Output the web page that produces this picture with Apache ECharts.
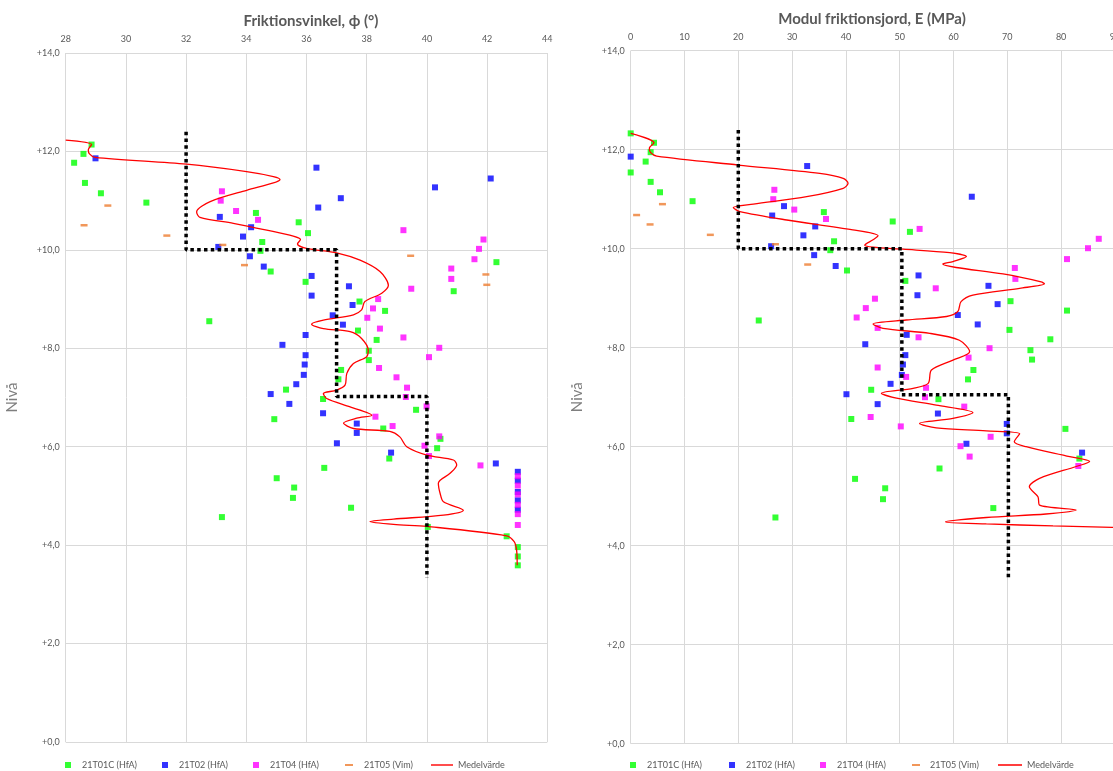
<!DOCTYPE html>
<html><head><meta charset="utf-8">
<script src="https://cdn.jsdelivr.net/npm/echarts@6/dist/echarts.min.js"></script>
<style>html,body{margin:0;padding:0;background:#fff}#c{width:1113px;height:771px}</style>
</head><body><div id="c"></div>
<script>
// ---------- data: friction angle chart (x = angle in degrees, y = level) ----------
const phiT01C = [[28.86,12.14],[28.59,11.95],[28.28,11.77],[28.64,11.36],[29.17,11.15],[30.68,10.96],[34.32,10.75],[35.74,10.56],[36.05,10.34],[34.53,10.16],[34.47,9.98],[34.81,9.56],[35.97,9.35],[42.31,9.75],[40.89,9.16],[37.76,8.95],[38.61,8.76],[32.77,8.55],[37.71,8.36],[38.33,8.17],[38.07,7.95],[38.07,7.76],[37.15,7.56],[37.06,7.37],[35.32,7.16],[36.55,6.97],[39.64,6.75],[34.93,6.56],[38.55,6.37],[40.45,6.16],[40.34,5.97],[38.75,5.76],[36.59,5.57],[35.01,5.36],[35.59,5.17],[35.55,4.96],[37.48,4.76],[33.19,4.57],[40.03,4.37],[42.65,4.18],[43.02,3.96],[43.02,3.77],[43.02,3.59]];
const phiT02 = [[28.99,11.86],[36.33,11.67],[42.12,11.45],[40.27,11.27],[37.14,11.05],[36.39,10.86],[33.12,10.67],[34.16,10.46],[33.89,10.27],[33.07,10.06],[34.12,9.87],[34.58,9.66],[36.17,9.47],[37.41,9.26],[36.17,9.07],[37.53,8.88],[36.87,8.67],[37.21,8.48],[35.97,8.27],[35.20,8.07],[35.97,7.86],[35.94,7.67],[35.91,7.46],[35.66,7.27],[34.81,7.07],[35.43,6.87],[36.55,6.68],[37.67,6.47],[37.67,6.28],[37.01,6.07],[38.81,5.88],[42.29,5.66],[43.02,5.49],[43.02,5.31],[43.02,5.08],[43.02,4.91],[43.02,4.72]];
const phiT04 = [[33.19,11.19],[33.15,11.00],[33.66,10.79],[34.39,10.61],[39.22,10.40],[41.88,10.21],[41.73,10.02],[41.58,9.81],[40.81,9.62],[40.81,9.41],[39.48,9.21],[38.38,9.00],[38.21,8.81],[38.02,8.62],[38.44,8.40],[39.22,8.22],[40.41,8.01],[40.07,7.82],[38.41,7.60],[38.99,7.41],[39.34,7.20],[39.30,7.01],[39.99,6.82],[38.29,6.61],[38.86,6.42],[40.41,6.21],[39.92,6.02],[40.07,5.81],[41.78,5.62],[43.02,5.40],[43.02,5.21],[43.02,5.03],[43.02,4.82],[43.02,4.63],[43.02,4.41]];
const phiT05 = [[29.40,10.90],[28.61,10.50],[31.36,10.29],[33.22,10.10],[33.94,9.69],[39.46,9.88],[41.96,9.50],[41.99,9.29]];
const phiMean = [[28.0,12.23],[28.86,12.14],[28.75,12.03],[28.79,11.95],[28.97,11.88],[32.02,11.74],[34.01,11.59],[34.9,11.49],[35.12,11.43],[34.9,11.36],[34.01,11.21],[32.8,10.98],[32.35,10.77],[32.46,10.66],[33.57,10.54],[34.68,10.40],[35.56,10.28],[35.8,10.21],[35.7,10.12],[36.0,10.03],[37.0,9.94],[37.78,9.79],[38.44,9.56],[38.72,9.28],[38.5,9.12],[37.94,8.95],[37.83,8.78],[37.56,8.68],[36.56,8.57],[36.17,8.49],[36.56,8.40],[37.45,8.34],[37.83,8.20],[38.05,7.96],[38.0,7.83],[37.56,7.69],[37.34,7.49],[37.28,7.25],[37.0,7.15],[36.56,7.08],[36.67,6.98],[37.45,6.81],[38.17,6.64],[37.67,6.58],[37.23,6.48],[37.56,6.37],[38.77,6.31],[39.1,6.2],[39.33,6.0],[40.0,5.83],[40.88,5.73],[40.99,5.63],[40.77,5.46],[40.38,5.26],[40.44,5.05],[40.55,4.88],[41.21,4.71],[40.55,4.61],[38.89,4.53],[38.11,4.48],[38.89,4.42],[40.0,4.38],[42.65,4.19],[42.9,4.07],[42.98,3.9],[43.0,3.59]];
const phiDesign = [[32,12.4],[32,10],[37,10],[37,7.02],[40,7.02],[40,3.33]];

// ---------- data: modulus chart (x = E in MPa, y = level) ----------
const eT01C = [[0,12.33],[4.33,12.14],[3.71,11.95],[2.78,11.76],[0,11.54],[3.71,11.35],[5.45,11.14],[11.5,10.96],[35.9,10.74],[48.7,10.55],[51.9,10.34],[37.8,10.15],[37.1,9.97],[40.2,9.56],[51.05,9.35],[70.6,8.94],[81.1,8.75],[23.8,8.55],[70.4,8.36],[78.0,8.17],[74.3,7.95],[74.6,7.76],[63.7,7.55],[62.7,7.36],[44.7,7.15],[57.2,6.96],[41.0,6.56],[80.8,6.36],[83.4,5.76],[57.4,5.56],[41.7,5.35],[47.3,5.16],[46.9,4.94],[67.4,4.76],[26.9,4.57]];
const eT02 = [[0,11.86],[32.8,11.67],[63.4,11.05],[28.5,10.86],[26.3,10.67],[34.3,10.45],[32.1,10.27],[26.1,10.05],[34.1,9.87],[38.1,9.65],[53.5,9.46],[66.5,9.25],[53.3,9.06],[68.2,8.88],[60.8,8.66],[64.5,8.47],[51.3,8.26],[43.6,8.07],[51.05,7.85],[50.6,7.66],[50.4,7.45],[48.3,7.27],[40.1,7.06],[45.9,6.86],[57.1,6.67],[69.9,6.46],[69.9,6.27],[62.4,6.06],[83.9,5.88]];
const eT04 = [[26.7,11.19],[26.5,11.0],[30.4,10.79],[36.3,10.6],[53.7,10.40],[87.0,10.2],[85.0,10.01],[81.1,9.79],[71.4,9.61],[71.5,9.39],[56.7,9.2],[45.4,8.99],[43.7,8.80],[42.0,8.61],[45.9,8.40],[53.5,8.21],[66.7,7.99],[62.8,7.80],[45.9,7.60],[51.2,7.41],[54.9,7.19],[54.7,7.0],[62.0,6.81],[44.6,6.60],[50.2,6.41],[66.9,6.20],[61.3,6.01],[63.0,5.80],[83.2,5.61]];
const eT05 = [[5.9,10.9],[1.1,10.68],[3.6,10.49],[14.8,10.28],[26.9,10.09],[32.9,9.68]];
const eMean = [[0,12.33],[4.33,12.14],[3.47,12.03],[3.71,11.94],[4.83,11.87],[19.99,11.69],[35.15,11.52],[39.5,11.42],[40.4,11.32],[39.5,11.22],[32.7,11.05],[22.8,10.9],[19.06,10.83],[20.3,10.75],[29.0,10.58],[41.3,10.38],[45.98,10.26],[45.05,10.18],[43.5,10.07],[45.05,10.03],[50.6,9.99],[59.3,9.92],[62.4,9.84],[59.9,9.74],[58.0,9.69],[60.5,9.62],[69.2,9.49],[76.3,9.33],[76.9,9.29],[72.3,9.2],[63.6,9.06],[61.4,8.93],[60.8,8.73],[58.7,8.63],[51.2,8.56],[45.05,8.48],[46.9,8.39],[55.6,8.29],[61.1,8.15],[63.0,7.92],[59.9,7.75],[55.9,7.55],[55.3,7.28],[52.5,7.18],[46.6,7.08],[49.4,6.98],[56.8,6.84],[63.6,6.69],[59.9,6.57],[53.7,6.47],[56.8,6.38],[66.1,6.32],[72.3,6.26],[71.3,6.1],[73.5,6.0],[81.6,5.8],[85.3,5.7],[82.8,5.6],[76.0,5.36],[74.1,5.19],[75.7,4.99],[76.0,4.82],[82.8,4.72],[77.2,4.64],[66.1,4.57],[58.5,4.48],[66.1,4.44],[78.5,4.4],[89.5,4.37],[96,4.35]];
const eDesign = [[20,12.4],[20,10],[50.4,10],[50.4,7.05],[70.2,7.05],[70.2,3.33]];

// ---------- labels ----------
const titles = ['Friktionsvinkel, \u03d5 (\u00b0)', 'Modul friktionsjord, E (MPa)'];
const yName = 'Niv\u00e5';
const names = ['21T01C (HfA)', '21T02 (HfA)', '21T04 (HfA)', '21T05 (Vim)', 'Medelv\u00e4rde'];

const FONT = 'Lato, "Open Sans", sans-serif';
const GRAY = '#595959';
const COLORS = ['#00ff00', '#0000ff', '#ff00ff', '#ed7d31', '#ff0000'];

function yFmt(v){ return '+' + v.toFixed(1).replace('.', ','); }

function seriesFor(idx, sets, mean, design){
  const out = [];
  sets.forEach((d, i) => {
    out.push({
      name: names[i], type: 'scatter', xAxisIndex: idx, yAxisIndex: idx, data: d,
      symbol: 'rect', symbolSize: i === 3 ? [7, 2.5] : 6,
      itemStyle: { color: COLORS[i] }, z: 2
    });
  });
  out.push({
    name: names[4], type: 'line', xAxisIndex: idx, yAxisIndex: idx, data: mean,
    symbol: 'none', showSymbol: false, smooth: 0.3, lineStyle: { color: COLORS[4], width: 1.3 },
    itemStyle: { color: COLORS[4] }, z: 3
  });
  out.push({
    name: 'Dimensionerande', type: 'line', xAxisIndex: idx, yAxisIndex: idx, data: design,
    symbol: 'none', lineStyle: { color: '#000', width: 3.5, type: [3.5, 3.3] }, z: 4
  });
  return out;
}

const LINE_ICON = 'path://M0,0L22,0L22,1.4L0,1.4Z';
const LEG_TOP = 760.5;

function legendsFor(specs){
  return specs.map((s, i) => ({
    left: s.left, top: LEG_TOP, padding: 0, selectedMode: false,
    itemWidth: s.w, itemHeight: s.h, icon: s.icon,
    data: [{ name: names[i], icon: s.icon, itemStyle: { color: COLORS[i] } }],
    textStyle: { fontSize: 9, color: GRAY, fontFamily: FONT, padding: [0, 0, 0, s.pad] }
  }));
}

const leftLegend = [
  { left: 65, w: 6, h: 6, icon: 'rect', pad: 6 },
  { left: 162, w: 6, h: 6, icon: 'rect', pad: 6 },
  { left: 253, w: 6, h: 6, icon: 'rect', pad: 6 },
  { left: 345, w: 8, h: 2, icon: 'rect', pad: 6 },
  { left: 431, w: 22, h: 6, icon: LINE_ICON, pad: 0 }
];
const rightLegend = [
  { left: 630, w: 6, h: 6, icon: 'rect', pad: 6 },
  { left: 729, w: 6, h: 6, icon: 'rect', pad: 6 },
  { left: 820, w: 6, h: 6, icon: 'rect', pad: 6 },
  { left: 912, w: 8, h: 2, icon: 'rect', pad: 5 },
  { left: 998, w: 24, h: 6, icon: LINE_ICON, pad: 0 }
];

function xAxis(idx, min, max, interval){
  return {
    type: 'value', gridIndex: idx, position: 'top', min, max, interval,
    axisLine: { show: false }, axisTick: { show: false },
    axisLabel: { fontSize: 9, color: GRAY, fontFamily: FONT, margin: 9 },
    splitLine: { show: true, lineStyle: { color: '#d9d9d9', width: 1 } }
  };
}
function yAxis(idx){
  return {
    type: 'value', gridIndex: idx, min: 0, max: 14, interval: 2,
    name: yName, nameLocation: 'middle', nameGap: 46,
    nameTextStyle: { fontSize: 15, color: '#7f7f7f', fontFamily: FONT },
    axisLine: { show: false }, axisTick: { show: false },
    axisLabel: { fontSize: 9, color: GRAY, fontFamily: FONT, margin: 6, formatter: yFmt },
    splitLine: { show: true, lineStyle: { color: '#d9d9d9', width: 1 } }
  };
}

const chart = echarts.init(document.getElementById('c'), null, { renderer: 'canvas' });
chart.setOption({
  animation: false,
  backgroundColor: '#fff',
  textStyle: { fontFamily: FONT },
  title: [
    { text: titles[0], left: 306, top: 9, textAlign: 'center', textStyle: { fontSize: 15, fontWeight: 'bold', color: GRAY, fontFamily: FONT } },
    { text: titles[1], left: 867, top: 7, textAlign: 'center', textStyle: { fontSize: 15, fontWeight: 'bold', color: GRAY, fontFamily: FONT } }
  ],
  legend: legendsFor(leftLegend).concat(legendsFor(rightLegend)),
  grid: [
    { left: 65.7, top: 53, width: 481.6, height: 689, containLabel: false, outerBoundsMode: 'none' },
    { left: 630.7, top: 50.7, width: 538, height: 693, containLabel: false, outerBoundsMode: 'none' }
  ],
  xAxis: [xAxis(0, 28, 44, 2), xAxis(1, 0, 100, 10)],
  yAxis: [yAxis(0), yAxis(1)],
  series: seriesFor(0, [phiT01C, phiT02, phiT04, phiT05], phiMean, phiDesign)
    .concat(seriesFor(1, [eT01C, eT02, eT04, eT05], eMean, eDesign))
});
</script>
</body></html>
